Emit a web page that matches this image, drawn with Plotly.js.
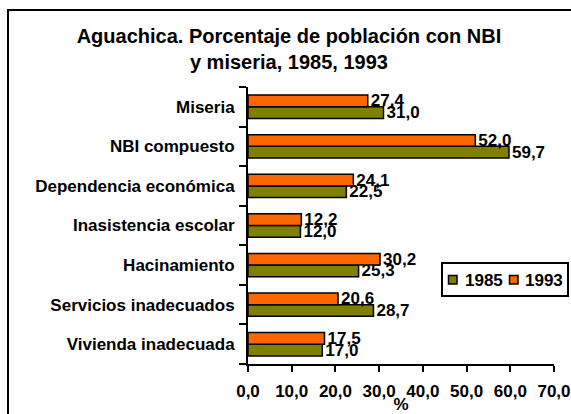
<!DOCTYPE html>
<html>
<head>
<meta charset="utf-8">
<script src="https://cdn.plot.ly/plotly-3.0.1.min.js"></script>
<style>
html,body{margin:0;padding:0;background:#fff;}
#chart{width:571px;height:414px;}
</style>
</head>
<body>
<div id="chart"></div>
<script>
// Categories listed bottom to top
const categories = [
  "Vivienda inadecuada",
  "Servicios inadecuados",
  "Hacinamiento",
  "Inasistencia escolar",
  "Dependencia económica",
  "NBI compuesto",
  "Miseria"
];
const values1985 = [17.0, 28.7, 25.3, 12.0, 22.5, 59.7, 31.0];
const values1993 = [17.5, 20.6, 30.2, 12.2, 24.1, 52.0, 27.4];
const seriesNames = ["1985", "1993"];
const xTickValues = [0, 10, 20, 30, 40, 50, 60, 70];
const titleText = "Aguachica. Porcentaje de población con NBI<br>y miseria, 1985, 1993";
const xTitle = "%";

const FONT = "Arial, 'Liberation Sans', sans-serif";
const colors = ["#808000", "#FF6600"];
const FS = 17;

function barTrace(vals, name, color) {
  return {
    type: "bar",
    orientation: "h",
    x: vals,
    y: categories,
    name: name,
    marker: {color: color, line: {color: "#000", width: 1.5}},
    texttemplate: "%{x:.1f}",
    textposition: "outside",
    constraintext: "none",
    cliponaxis: false,
    textfont: {family: FONT, size: FS, color: "#000", weight: "bold"},
    hoverinfo: "skip"
  };
}

const data = [
  barTrace(values1985, seriesNames[0], colors[0]),
  barTrace(values1993, seriesNames[1], colors[1])
];

// pixel helpers for legend/frame placement (plot area: x 248..554, y 87..364)
const PL = 248, PR = 554, PT = 87, PB = 364;
const px = v => (v - PL) / (PR - PL);
const py = v => (PB - v) / (PB - PT);

const layout = {
  width: 571,
  height: 414,
  margin: {l: PL, r: 571 - PR, t: PT, b: 414 - PB, pad: 0},
  paper_bgcolor: "#fff",
  plot_bgcolor: "#fff",
  separators: ",.",
  font: {family: FONT, color: "#000"},
  showlegend: false,
  barmode: "group",
  bargap: 0.41,
  bargroupgap: 0,
  title: {
    text: titleText,
    font: {family: FONT, size: 20, color: "#000", weight: "bold"},
    x: 0.506, xref: "container", xanchor: "center",
    y: 0.895, yref: "container", yanchor: "top"
  },
  xaxis: {
    range: [0, 70],
    tickvals: xTickValues,
    tickformat: ".1f",
    showgrid: false,
    zeroline: false,
    showline: true,
    linecolor: "#000",
    linewidth: 2,
    ticks: "outside",
    ticklen: 6,
    tickwidth: 2,
    tickcolor: "#000",
    ticklabelstandoff: 5,
    tickfont: {family: FONT, size: FS, color: "#000", weight: "bold"},
    title: {text: xTitle, font: {family: FONT, size: FS, color: "#000", weight: "bold"}, standoff: 0},
    fixedrange: true
  },
  yaxis: {
    type: "category",
    showgrid: false,
    zeroline: false,
    showline: true,
    linecolor: "#000",
    linewidth: 2,
    ticks: "outside",
    tickson: "boundaries",
    ticklen: 7,
    tickwidth: 2,
    tickcolor: "#000",
    ticklabelstandoff: 8,
    tickfont: {family: FONT, size: FS, color: "#000", weight: "bold"},
    fixedrange: true
  },
  shapes: [
    // outer frame (left/top visible)
    {type: "rect", xref: "paper", yref: "paper", x0: px(8), x1: px(640), y0: py(480), y1: py(10),
     line: {color: "#000", width: 2}, fillcolor: "rgba(0,0,0,0)", layer: "above"},
    // legend box
    {type: "rect", xref: "paper", yref: "paper", x0: px(442), x1: px(568), y0: py(296), y1: py(263),
     line: {color: "#000", width: 2}, fillcolor: "#fff", layer: "above"},
    {type: "rect", xref: "paper", yref: "paper", x0: px(448.5), x1: px(457), y0: py(284), y1: py(275.5),
     line: {color: "#000", width: 1.5}, fillcolor: colors[0], layer: "above"},
    {type: "rect", xref: "paper", yref: "paper", x0: px(509.5), x1: px(518), y0: py(284), y1: py(275.5),
     line: {color: "#000", width: 1.5}, fillcolor: colors[1], layer: "above"}
  ],
  annotations: [
    {xref: "paper", yref: "paper", x: px(463), y: py(280), xanchor: "left", yanchor: "middle",
     text: seriesNames[0], showarrow: false, font: {family: FONT, size: FS, color: "#000", weight: "bold"}},
    {xref: "paper", yref: "paper", x: px(523), y: py(280), xanchor: "left", yanchor: "middle",
     text: seriesNames[1], showarrow: false, font: {family: FONT, size: FS, color: "#000", weight: "bold"}}
  ]
};

Plotly.newPlot("chart", data, layout, {displayModeBar: false, staticPlot: true});
</script>
</body>
</html>
